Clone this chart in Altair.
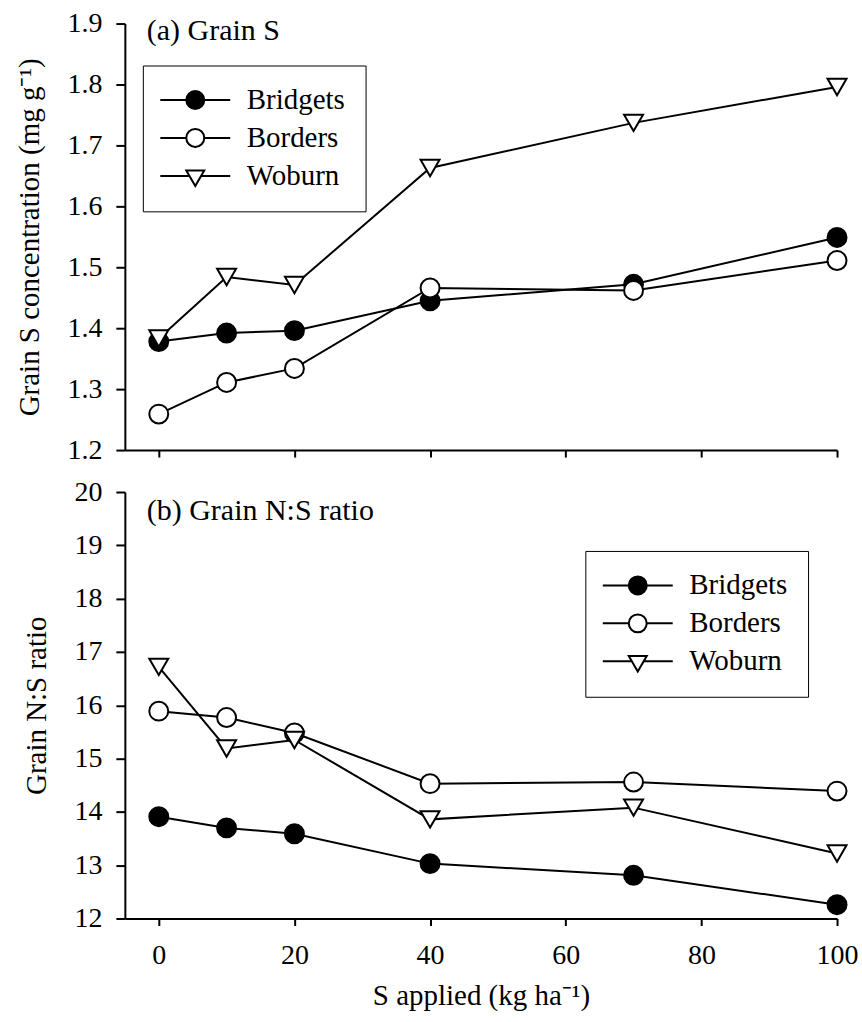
import altair as alt
import pandas as pd

# ---- data ----
s_applied = [0, 10, 20, 40, 70, 100]
sites = ["Bridgets", "Borders", "Woburn"]

grain_s_bridgets = [1.378, 1.392, 1.396, 1.445, 1.472, 1.549]
grain_s_borders = [1.259, 1.311, 1.334, 1.466, 1.462, 1.511]
grain_s_woburn = [1.383, 1.484, 1.471, 1.663, 1.737, 1.796]

ns_bridgets = [13.91, 13.70, 13.59, 13.03, 12.81, 12.26]
ns_borders = [15.89, 15.77, 15.48, 14.53, 14.56, 14.39]
ns_woburn = [16.72, 15.19, 15.35, 13.86, 14.08, 13.22]

panel_labels = ["(a) Grain S", "(b) Grain N:S ratio"]
y_titles = ["Grain S concentration (mg g\u207b\u00b9)", "Grain N:S ratio"]
x_title = "S applied (kg ha\u207b\u00b9)"
x_ticks = [0, 20, 40, 60, 80, 100]
s_ticks = [1.2, 1.3, 1.4, 1.5, 1.6, 1.7, 1.8, 1.9]
ns_ticks = [12, 13, 14, 15, 16, 17, 18, 19, 20]


def long_table(series):
    rows = []
    for site, vals in zip(sites, series):
        for x, v in zip(s_applied, vals):
            rows.append({"site": site, "x": x, "v": v})
    return pd.DataFrame(rows)


df_s = long_table([grain_s_bridgets, grain_s_borders, grain_s_woburn])
df_ns = long_table([ns_bridgets, ns_borders, ns_woburn])

FONT = "Liberation Serif"
W, H = 713, 427

shape_scale = alt.Scale(domain=sites, range=["circle", "circle", "triangle-down"])
fill_scale = alt.Scale(domain=sites, range=["black", "white", "white"])
stroke_scale = alt.Scale(domain=sites, range=["black", "black", "black"])

# legend symbols: a horizontal line through the marker
circ_path = ("M-2.917,0H-0.75M0.75,0H2.917"
             "M0.75,0A0.75,0.75,0,1,1,-0.75,0A0.75,0.75,0,1,1,0.75,0Z")
tri_path = ("M-2.917,0H-0.5M0.5,0H2.917"
            "M-0.75,-0.45L0.75,-0.45L0,0.85Z")
legend_shape_scale = alt.Scale(domain=sites, range=[circ_path, circ_path, tri_path])


def panel(df, ydomain, yticks, yfmt, ytitle, label, label_y, show_x, lx, ly):
    xaxis_kw = dict(values=x_ticks, labels=show_x, labelFlush=False)
    if show_x:
        xaxis_kw["title"] = x_title
    else:
        xaxis_kw["title"] = None
    xenc = alt.X("x:Q", scale=alt.Scale(domain=[-5, 100], nice=False, zero=False),
                 axis=alt.Axis(**xaxis_kw))
    yenc = alt.Y("v:Q", scale=alt.Scale(domain=ydomain, nice=False, zero=False),
                 axis=alt.Axis(values=yticks, format=yfmt, title=ytitle, labelFlush=False))
    base = alt.Chart(df)
    lines = base.mark_line(color="black", strokeWidth=2).encode(
        x=xenc, y=yenc, detail="site:N")
    pts = base.mark_point(filled=True, stroke="black", strokeWidth=2, opacity=1, size=360).encode(
        x=xenc, y=yenc,
        shape=alt.Shape("site:N", scale=shape_scale, legend=None),
        fill=alt.Fill("site:N", scale=fill_scale, legend=None),
    )
    leg_spec = alt.Legend(
        orient="none", legendX=lx, legendY=ly, title=None,
        strokeColor="black", fillColor="white", padding=20,
        symbolSize=576, symbolStrokeWidth=2,
        symbolOpacity=1,
        symbolOffset=18, labelOffset=37, labelLimit=0,
        labelFont=FONT, labelFontSize=29, labelColor="black", rowPadding=8,
    )
    leg = base.mark_point(filled=True, strokeWidth=2, opacity=1).encode(
        shape=alt.Shape("site:N", scale=legend_shape_scale, legend=leg_spec),
        fill=alt.Fill("site:N", scale=fill_scale, legend=leg_spec),
        stroke=alt.Stroke("site:N", scale=stroke_scale, legend=leg_spec),
    ).transform_filter("false")
    txt = alt.Chart(pd.DataFrame({"t": [label]})).mark_text(
        font=FONT, fontSize=30, align="left", baseline="alphabetic", color="black"
    ).encode(x=alt.value(22), y=alt.value(label_y), text="t:N")
    return alt.layer(lines, pts, leg, txt).resolve_scale(
        shape="independent", fill="independent", stroke="independent"
    ).properties(width=W, height=H)


top = panel(df_s, [1.2, 1.9], s_ticks, ".1f", y_titles[0], panel_labels[0], 16,
            False, 18, 42)
bottom = panel(df_ns, [12, 20], ns_ticks, "d", y_titles[1], panel_labels[1], 28,
               True, 461, 59)

chart = alt.vconcat(top, bottom, spacing=14).properties(
    padding={"left": 16, "top": 9, "right": 4, "bottom": 5}
).configure_view(stroke=None).configure_axis(
    domainColor="black", domainWidth=2, tickColor="black", tickWidth=2,
    grid=False, labelFont=FONT, labelFontSize=28, labelColor="black",
    titleFont=FONT, titleFontSize=29, titleFontWeight="normal", titleColor="black",
).configure_axisY(tickSize=9, labelPadding=14, titlePadding=22).configure_axisX(
    tickSize=7, labelPadding=16, titlePadding=12)

chart.save("out.html", embed_options={"renderer": "svg", "actions": False})
